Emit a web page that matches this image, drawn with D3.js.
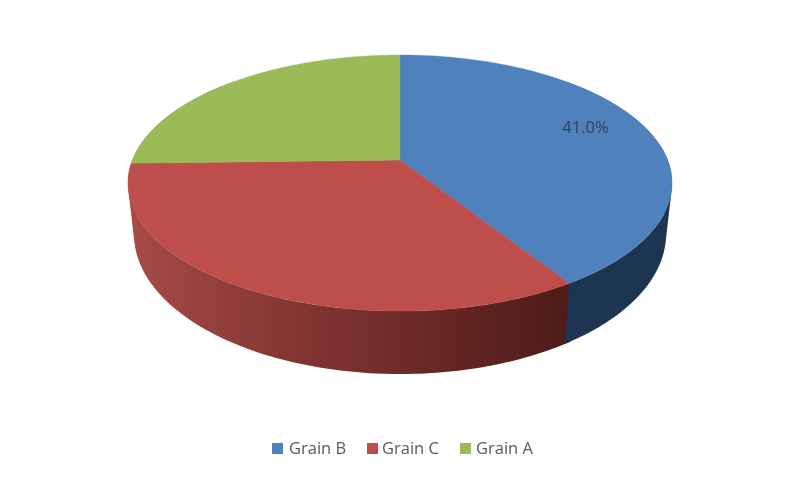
<html>
<script src='https://d3js.org/d3.v7.min.js'></script>
<style>
  body {margin: 0; background: white;}
  svg {filter: blur(0.6px);}
  text {font-family: 'Open Sans', sans-serif; fill: #595959;}
</style>
<body>
<svg width=800 height=480></svg>
<script>
var categories = ['Grain B', 'Grain C', 'Grain A'];
var shares = [41.0, 33.6, 25.4];
var topColors = ['#4f81bd', '#bd4e4b', '#9bbb59'];
var labelText = ['41.0%', '', ''];

var svg = d3.select('svg');

// the pie is seen in perspective, so the centre sits above the middle of the ellipse
var topDisc = {x: 400, y: 160, a: 267.6, b: 123.9, k: 0.18};
var bottomDisc = {x: 400, y: 208.8, a: 261.7, b: 135.5, k: 0.18};

function rim(angle, disc, r) {
  r = r === undefined ? 1 : r;
  var u = r * Math.sin(angle), v = r * Math.cos(angle);
  var w = 1 + disc.k * v;
  return [disc.x + disc.a * u / w, disc.y - disc.b * v / w];
}

var arcs = d3.pie().sort(null).value(function(d) { return d; })(shares);
var line = d3.line();
var blueEnd = arcs[0].endAngle;

// red wall gets a left to right shade
var redSide = d3.scaleLinear()
  .domain([130, 250, 400, 565])
  .range(['#a64b48', '#8c3b38', '#6f2b29', '#4e1c19']);
var grad = svg.append('defs').append('linearGradient')
  .attr('id', 'redWall')
  .attr('gradientUnits', 'userSpaceOnUse')
  .attr('x1', 130).attr('x2', 565).attr('y1', 0).attr('y2', 0);
redSide.domain().forEach(function(x) {
  grad.append('stop')
    .attr('offset', (x - 130) / (565 - 130))
    .attr('stop-color', redSide(x));
});

// one path of many strips, all wound the same way so the wall keeps its silhouette
function wall(from, to) {
  var step = Math.PI / 180;
  return d3.range(from, to, step).map(function(t) {
    var t2 = Math.min(t + step, to);
    var quad = [rim(t, topDisc), rim(t2, topDisc), rim(t2, bottomDisc), rim(t, bottomDisc)];
    if (d3.polygonArea(quad) < 0) quad.reverse();
    return line(quad) + 'Z';
  }).join('');
}

svg.append('path')
  .attr('d', wall(blueEnd - 0.02, 1.75 * Math.PI))
  .attr('fill', 'url(#redWall)');
svg.append('path')
  .attr('d', wall(Math.PI / 4, blueEnd))
  .attr('fill', '#1e3552');

// top face
svg.selectAll('path.slice').data(arcs).enter().append('path')
  .attr('class', 'slice')
  .attr('d', function(d) {
    var pts = d3.range(d.startAngle, d.endAngle, Math.PI / 180).map(function(t) { return rim(t, topDisc); });
    pts.push(rim(d.endAngle, topDisc));
    pts.unshift([topDisc.x, topDisc.y]);
    return line(pts) + 'Z';
  })
  .attr('fill', function(d, i) { return topColors[i]; })
  .attr('stroke', function(d, i) { return topColors[i]; })
  .attr('stroke-width', 0.4);

// data label
svg.selectAll('text.label').data(arcs).enter().append('text')
  .attr('class', 'label')
  .attr('x', function(d) { return rim((d.startAngle + d.endAngle) / 2 - 0.084, topDisc, 0.78)[0]; })
  .attr('y', function(d) { return rim((d.startAngle + d.endAngle) / 2 - 0.084, topDisc, 0.78)[1]; })
  .attr('text-anchor', 'middle')
  .attr('dy', '0.35em')
  .style('font-size', '16.5px')
  .style('fill', '#33435a')
  .text(function(d, i) { return labelText[i]; });

// legend
var legendX = d3.scaleOrdinal().domain(categories).range([272, 367, 460]);
var legend = svg.selectAll('g.legend').data(categories).enter().append('g')
  .attr('class', 'legend')
  .attr('transform', function(d) { return 'translate(' + legendX(d) + ',443)'; });
legend.append('rect')
  .attr('width', 11).attr('height', 11)
  .attr('fill', function(d, i) { return topColors[i]; });
legend.append('text')
  .attr('x', function(d, i) { return i == 2 ? 16 : i == 1 ? 15 : 17; })
  .attr('y', 11)
  .style('font-size', '16.5px')
  .text(function(d) { return d; });
</script>
</body>
</html>
